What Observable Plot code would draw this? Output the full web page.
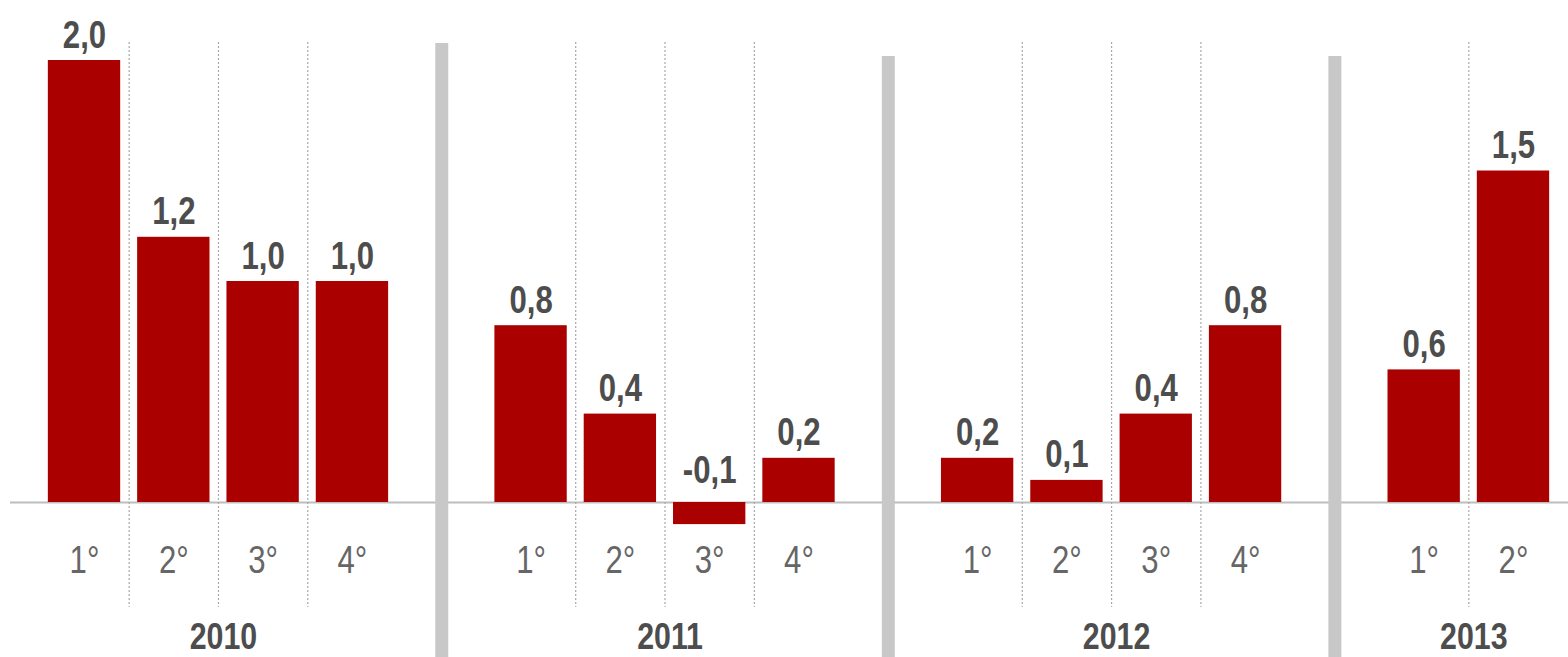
<!DOCTYPE html>
<html>
<head>
<meta charset="utf-8">
<script src="https://cdn.jsdelivr.net/npm/d3@7"></script>
<script src="https://cdn.jsdelivr.net/npm/@observablehq/plot@0.6"></script>
<style>
  html, body { margin: 0; padding: 0; background: #fff; }
  #chart svg { display: block; }
</style>
</head>
<body>
<div id="chart"></div>
<script>
const years = ["2010", "2011", "2012", "2013"];
const quarters = ["1°", "2°", "3°", "4°"];
const values2010 = [2.0, 1.2, 1.0, 1.0];
const values2011 = [0.8, 0.4, -0.1, 0.2];
const values2012 = [0.2, 0.1, 0.4, 0.8];
const values2013 = [0.6, 1.5];

const seriesByYear = [values2010, values2011, values2012, values2013];
const SLOTS_PER_YEAR = 5; // 4 quarters + 1 separator slot

const rows = [];
seriesByYear.forEach((vals, yi) => {
  vals.forEach((v, qi) => {
    rows.push({year: years[yi], quarter: quarters[qi], value: v, slot: yi * SLOTS_PER_YEAR + qi});
  });
});
const yearRows = years.map(y => {
  const s = rows.filter(r => r.year === y).map(r => r.slot);
  return {year: y, slot: d3.mean(s)};
});
const separators = years.slice(1).map((y, i) => (i + 1) * SLOTS_PER_YEAR - 1);
const dividers = rows.filter((r, i) => rows[i + 1] && rows[i + 1].year === r.year).map(r => r.slot + 0.5);

const fmt = v => v.toFixed(1).replace(".", ",");
const FONT = "'Liberation Sans', Arial, sans-serif";
const HALF = 0.405;

const chart = Plot.plot({
  width: 1568,
  height: 657,
  marginTop: 0,
  marginBottom: 0,
  marginLeft: 0,
  marginRight: 0,
  style: {fontFamily: FONT, background: "#fff"},
  x: {type: "linear", domain: [-0.5, 16.5], range: [39.35, 1557.65], axis: null},
  y: {domain: [0, 2], range: [502, 60], axis: null},
  marks: [
    Plot.ruleY([0], {stroke: "#bdbdbd", strokeWidth: 2, insetLeft: 10}),
    Plot.ruleX(dividers, {x: d => d, stroke: "#a8a8a8", strokeWidth: 1.2, strokeDasharray: "2,2", insetTop: 42, insetBottom: 50}),
    Plot.rectY(rows, {x1: d => d.slot - HALF, x2: d => d.slot + HALF, y1: 0, y2: "value", fill: "#ab0000"}),
    Plot.ruleX(separators.slice(0, 1), {x: d => d, stroke: "#c8c8c8", strokeWidth: 13, insetTop: 43}),
    Plot.ruleX(separators.slice(1), {x: d => d, stroke: "#c8c8c8", strokeWidth: 13, insetTop: 56}),
    Plot.text(rows.filter(r => r.value >= 0), {x: "slot", y: "value", text: d => fmt(d.value), lineAnchor: "bottom", dy: -13, fontSize: 38, fontWeight: "bold", fill: "#4d4d4d"}),
    Plot.text(rows.filter(r => r.value < 0), {x: "slot", y: 0, text: d => fmt(d.value), lineAnchor: "bottom", dy: -20, fontSize: 38, fontWeight: "bold", fill: "#4d4d4d"}),
    Plot.text(rows, {x: "slot", frameAnchor: "bottom", text: "quarter", lineAnchor: "bottom", dy: -85, fontSize: 38, fill: "#666"}),
    Plot.text(yearRows, {x: "slot", frameAnchor: "bottom", text: "year", lineAnchor: "bottom", dx: 5, dy: -9, fontSize: 37, fontWeight: "bold", fill: "#4d4d4d"})
  ]
});
// Emulate a narrow typeface (Arial Narrow ≈ Arial at 82% width)
d3.select(chart).selectAll("text").attr("transform", function() {
  return (this.getAttribute("transform") || "") + " scale(0.82,1)";
});
document.getElementById("chart").appendChild(chart);
</script>
</body>
</html>
